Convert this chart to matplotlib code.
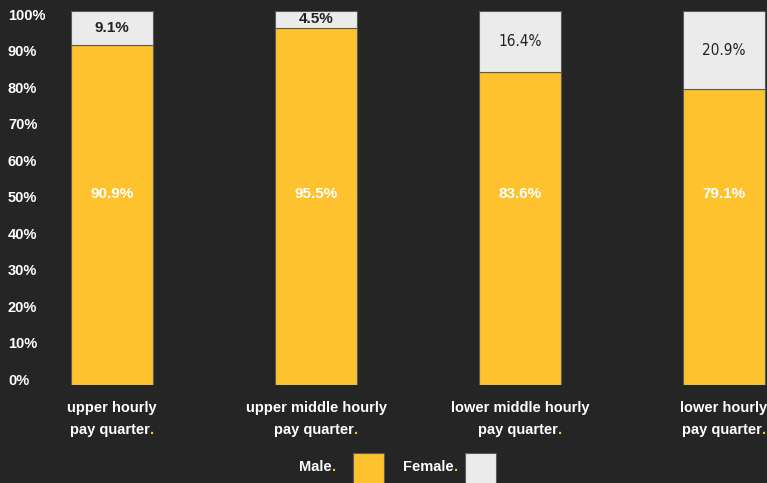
import matplotlib
matplotlib.use("Agg")
from matplotlib import pyplot as plt
from matplotlib.patches import Rectangle
from matplotlib.transforms import offset_copy
import numpy as np

# data
quarters = ["upper hourly\npay quarter", "upper middle hourly\npay quarter",
            "lower middle hourly\npay quarter", "lower hourly\npay quarter"]
male = [90.9, 95.5, 83.6, 79.1]
female = [9.1, 4.5, 16.4, 20.9]
yticks = [0, 10, 20, 30, 40, 50, 60, 70, 80, 90, 100]

BG = "#252526"
ORANGE = "#FEC22F"
GREY = "#EBEBEB"
EDGE = "#5a5a5a"
BOLD = ["Liberation Sans", "DejaVu Sans"]

fig = plt.figure(figsize=(7.67, 4.83), dpi=100, facecolor=BG)
ax = fig.add_axes([0, 98 / 483, 1, 374 / 483])
ax.set_facecolor(BG)
ax.set_xlim(-112 / 204, 655 / 204)
ax.set_ylim(0, 100)
ax.axis("off")

x = np.arange(len(male))
w = 0.40
ax.bar(x, male, w, color=ORANGE, edgecolor=EDGE, linewidth=0.8)
ax.bar(x, female, w, bottom=male, color=GREY, edgecolor=EDGE, linewidth=0.8)

# value labels
for i in range(len(male)):
    ax.text(x[i], 51, "%.1f%%" % male[i], ha="center", va="center",
            color="white", fontsize=11, fontweight="bold", family=BOLD)
    yf = male[i] + female[i] / 2
    if female[i] < 10:
        ax.text(x[i], yf, "%.1f%%" % female[i], ha="center", va="center",
                color="#222222", fontsize=11, fontweight="bold", family=BOLD)
    else:
        ax.text(x[i], yf, "%.1f%%" % female[i], ha="center", va="center",
                color="#222222", fontsize=11, family="DejaVu Sans",
                fontstretch="condensed")

# y tick labels (slightly inset from bar scale, as in the picture)
for v in yticks:
    ax.text(8 / 767, 1.07 + v * 0.976, "%d%%" % v, ha="left", va="center",
            color="white", fontsize=10.5, fontweight="bold", family=BOLD,
            transform=ax.get_yaxis_transform())

# width of a bold full stop, in pixels
r = fig.canvas.get_renderer()
tmp = fig.text(0, 0, ".", fontsize=10.5, fontweight="bold", family=BOLD)
dw = tmp.get_window_extent(renderer=r).width
tmp.remove()

# category labels, with an orange full stop on the second line
dotted = []
for i, q in enumerate(quarters):
    l1, l2 = q.split("\n")
    ax.text(x[i], -6.15, l1, ha="center", va="center", color="white",
            fontsize=10.5, fontweight="bold", family=BOLD, clip_on=False)
    tr = offset_copy(ax.transData, fig=fig, x=-dw / 2, y=0, units="dots")
    t = ax.text(x[i], -12.1, l2, ha="center", va="center", color="white",
                fontsize=10.5, fontweight="bold", family=BOLD, clip_on=False,
                transform=tr)
    dotted.append(t)

# legend
for label, xr, xb, col in [("Male", 336, 353, ORANGE), ("Female", 458, 465, GREY)]:
    tr = offset_copy(fig.transFigure, fig=fig, x=-dw, y=0, units="dots")
    t = fig.text(xr / 767, 1 - 467 / 483, label, ha="right", va="center",
                 color="white", fontsize=10.5, fontweight="bold", family=BOLD,
                 transform=tr)
    dotted.append(t)
    fig.add_artist(Rectangle((xb / 767, -0.01), 31 / 767, (483 - 453) / 483 + 0.01,
                             transform=fig.transFigure, facecolor=col,
                             edgecolor=EDGE, linewidth=0.8))

# orange full stops after each dotted label
fig.canvas.draw()
for t in dotted:
    bb = t.get_window_extent(renderer=r)
    yd = t.get_transform().transform(t.get_position())[1]
    fx, fy = fig.transFigure.inverted().transform((bb.x1, yd))
    fig.text(fx, fy, ".", ha="left", va="center", color=ORANGE,
             fontsize=10.5, fontweight="bold", family=BOLD)

fig.savefig("out.png", dpi=100, facecolor=BG)
